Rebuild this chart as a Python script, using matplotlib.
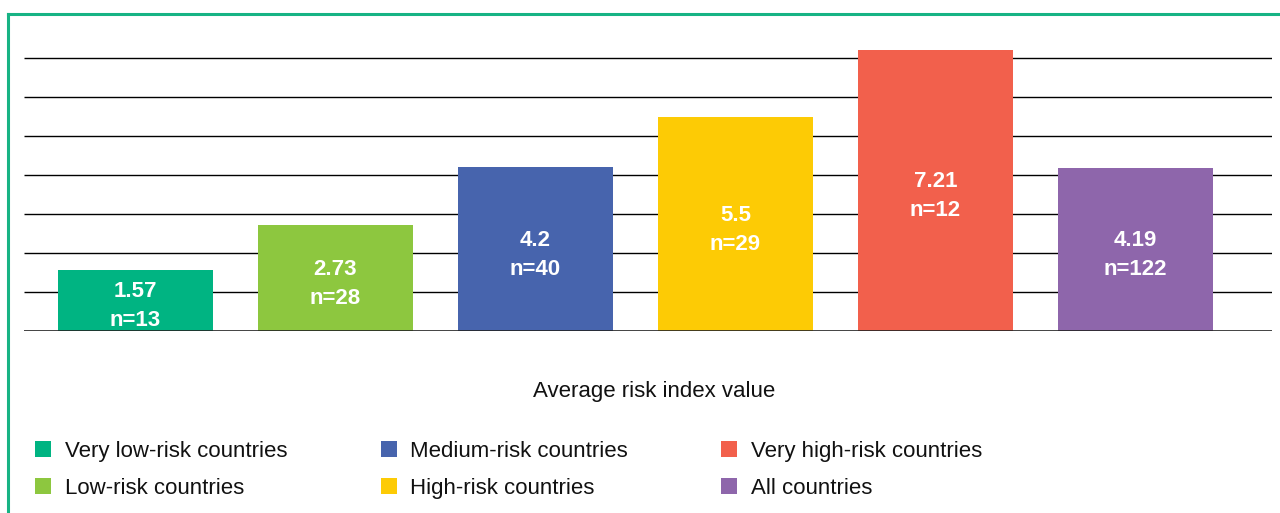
import matplotlib.pyplot as plt
from matplotlib.patches import Patch
from matplotlib.lines import Line2D

plt.rcParams['font.family'] = ['Liberation Sans', 'DejaVu Sans']

# average risk index per country group
groups = ['Very low-risk countries', 'Low-risk countries', 'Medium-risk countries',
          'High-risk countries', 'Very high-risk countries', 'All countries']
values = [1.57, 2.73, 4.2, 5.5, 7.21, 4.19]
counts = [13, 28, 40, 29, 12, 122]
colors = ['#00b482', '#8dc73f', '#4764ad', '#fdcb05', '#f2604c', '#8e66ab']
grid_levels = [1, 2, 3, 4, 5, 6, 7]

fig = plt.figure(figsize=(12.8, 5.13), dpi=100)
ax = fig.add_axes([24 / 1280, 182 / 513, 1248 / 1280, 291 / 513])

x = list(range(len(values)))
ax.hlines(grid_levels, -0.5575, 5.6825, color='black', lw=1.0, zorder=1)
ax.bar(x, values, width=0.775, color=colors, zorder=2)
ax.axhline(0, color='#222222', lw=1.2, zorder=3)

for xi, v, n in zip(x, values, counts):
    ax.text(xi, v / 2 - 0.15, f'{v:g}\nn={n}', ha='center', va='center',
            color='white', fontsize=16, fontweight='bold', linespacing=1.5, zorder=4)

ax.set_xlim(-0.5575, 5.6825)
ax.set_ylim(0, 291 / 39)
ax.axis('off')

fig.text(654 / 1280, 1 - 391 / 513, 'Average risk index value', ha='center', va='center',
         fontsize=16, color='#111111')

# legend, three columns filled top to bottom
handles = [Patch(facecolor=c, edgecolor='none') for c in colors]
fig.legend(handles, groups, ncol=3, loc='upper left',
           bbox_to_anchor=(35 / 1280, 1 - 441 / 513), frameon=False,
           fontsize=16, handlelength=0.72, handleheight=0.72, handletextpad=0.62,
           columnspacing=4.2, labelspacing=0.7, borderpad=0, borderaxespad=0,
           labelcolor='#111111')

# green frame along the top and left edges
green = '#17b384'
fig.add_artist(Line2D([8 / 1280, 1], [1 - 14 / 513, 1 - 14 / 513],
                      transform=fig.transFigure, color=green, lw=2.2))
fig.add_artist(Line2D([8 / 1280, 8 / 1280], [0, 1 - 14 / 513],
                      transform=fig.transFigure, color=green, lw=2.2))

fig.savefig('out.png', dpi=100)
